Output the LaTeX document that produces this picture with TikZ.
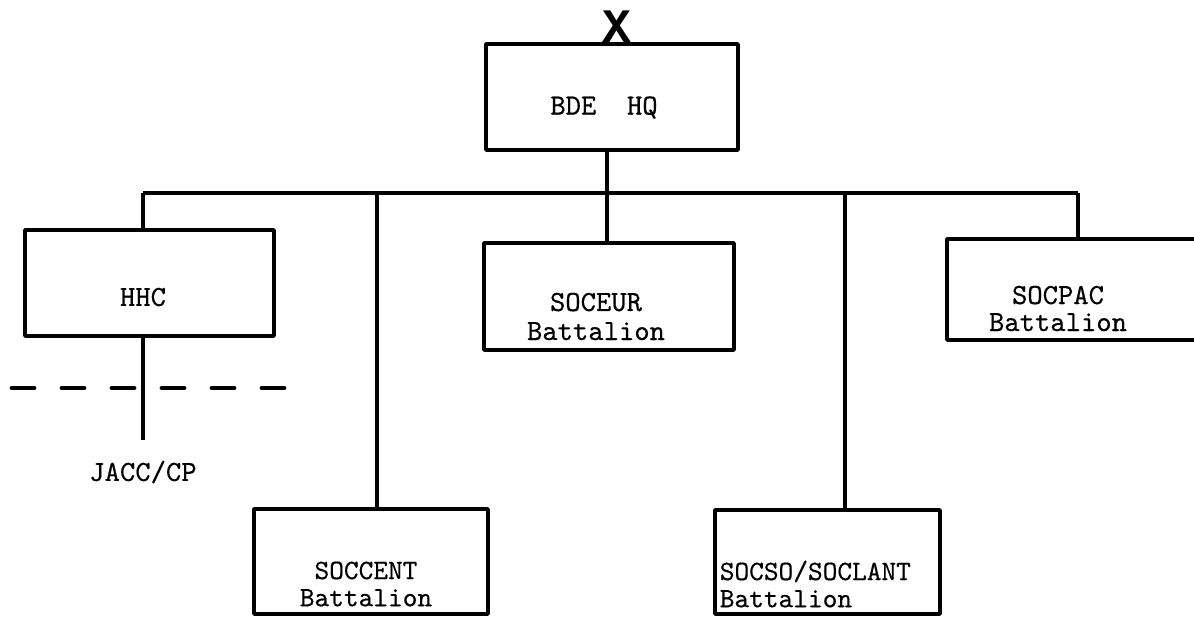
\documentclass[tikz,border=0pt]{standalone}
\usepackage{fontspec}
\newfontfamily\tw[FakeBold=0.4]{lmmono10-regular.otf}
\newfontfamily\twb{Liberation Mono}
\begin{document}
\begin{tikzpicture}[x=0.5pt,y=-0.5pt,line width=1.8pt,line join=round,
  unitbox/.style={draw,rectangle,inner sep=0pt,line width=1.8pt},
  lbl/.style={inner sep=0pt,font=\tw\fontsize{14.6}{14.5}\selectfont},
  tight/.style={font=\tw\fontsize{14}{13.6}\selectfont},
  cut/.style={line width=2.4pt,line cap=round,dash pattern=on 11pt off 14pt}]
\useasboundingbox (0,0) rectangle (1194,616);
\clip (0,0) rectangle (1194,616);

% unit boxes
\node[unitbox,minimum width=126pt,minimum height=53pt]   (bde)     at (612,97)    {};
\node[unitbox,minimum width=124.5pt,minimum height=53pt] (hhc)     at (149.5,283) {};
\node[unitbox,minimum width=125pt,minimum height=53.5pt] (soceur)  at (609,296.5) {};
\node[unitbox,minimum width=129pt,minimum height=50.5pt] (socpac)  at (1076,289.5){};
\node[unitbox,minimum width=117pt,minimum height=52.5pt] (soccent) at (371,561.5) {};
\node[unitbox,minimum width=112.5pt,minimum height=52pt] (socso)   at (827.5,562) {};

% brigade symbol
\node[inner sep=0pt,anchor=south,font=\twb\bfseries\fontsize{24}{24}\selectfont] (brig) at (617,44.5) {X};

% labels
\node[lbl] (bdeT) at (604,107.5) {BDE\ \ HQ};
\node[lbl] (hhcT) at (143,297) {HHC};
\node[lbl] (jacc) at (143,472) {JACC/CP};
\node[lbl,align=center] (soceurT) at (596,316.5)
  {SOCEUR\\Battalion};
\node[lbl,align=center] (socpacT) at (1058,308.5)
  {SOCPAC\\[-1pt]Battalion};
\node[lbl,tight,align=center] (soccentT) at (366,584)
  {SOCCENT\\Battalion};
\node[lbl,tight,align=left,anchor=west] (socsoT) at (718,584)
  {SOCSO/SOCLANT\\Battalion};

% distribution bus and junctions
\coordinate (busL) at (143,193);
\coordinate (busR) at (1078,193);
\coordinate (j1) at (377,193);
\coordinate (j2) at (607,193);
\coordinate (j3) at (845,193);
\draw (busL) -- (busR);

\draw (bde.south -| j2) -- (j2);
\draw (j2) -- (j2 |- soceur.north);
\draw (busL) -- (busL |- hhc.north);
\draw (j1) -- (j1 |- soccent.north);
\draw (j3) -- (j3 |- socso.north);
\draw (busR) -- (busR |- socpac.north);

% HHC to JACC/CP, crossed by the dashed line
\coordinate (jaccTop) at (143,440);
\draw (hhc.south -| jaccTop) -- (jaccTop);
\coordinate (dashL) at (12,388);
\coordinate (dashR) at (285,388);
\draw[cut] (dashL) -- (dashR);
\end{tikzpicture}
\end{document}
